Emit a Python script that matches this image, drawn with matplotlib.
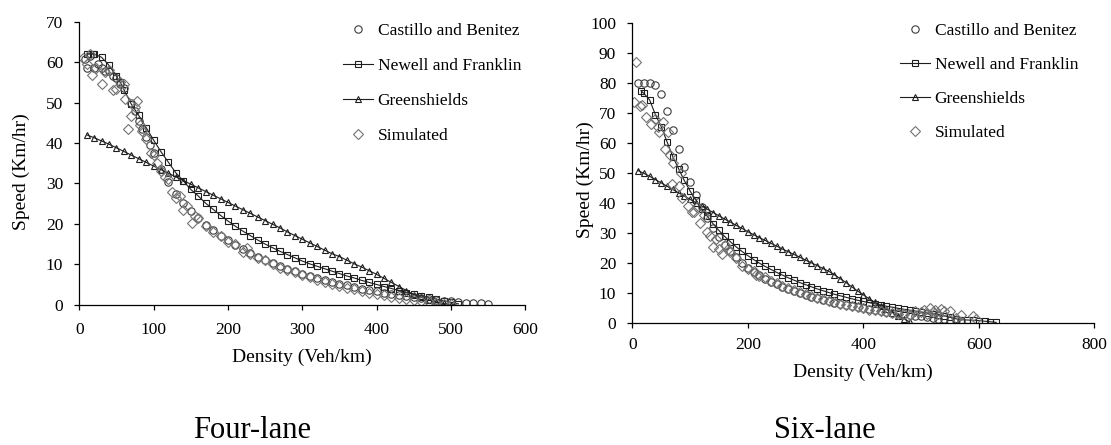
import matplotlib
matplotlib.use("Agg")
import matplotlib.pyplot as plt
from matplotlib.lines import Line2D

plt.rcParams['font.family'] = ['Liberation Serif', 'DejaVu Serif']

# ---------------- Four-lane data ----------------
k4_cb = [8, 10, 15, 20, 25, 30, 35, 40, 45, 50, 55, 60, 70, 75, 80, 85, 90, 95, 100, 110,
         120, 130, 140, 150, 160, 170, 180, 190, 200, 210, 220, 230, 240, 250, 260, 270, 280,
         290, 300, 310, 320, 330, 340, 350, 360, 370, 380, 390, 400, 410, 420, 430, 440, 450,
         460, 470, 480, 490, 500, 510, 520, 530, 540, 550]
v4_cb = [60.8, 58.5, 61.5, 58.6, 59.5, 58.5, 57.8, 57.8, 56.5, 56.0, 54.5, 53.5, 50.0, 48.0,
         45.5, 43.5, 41.5, 39.5, 37.5, 33.5, 30.3, 27.5, 25.2, 23.2, 21.4, 19.8, 18.4, 17.1,
         15.9, 14.8, 13.8, 12.8, 11.9, 11.1, 10.3, 9.6, 8.9, 8.3, 7.7, 7.1, 6.6, 6.1, 5.6, 5.2,
         4.8, 4.4, 4.0, 3.6, 3.3, 3.0, 2.7, 2.4, 2.1, 1.9, 1.6, 1.4, 1.2, 1.0, 0.8, 0.7, 0.5,
         0.4, 0.3, 0.2]

k4_nf = [10, 14, 18, 20, 30, 40, 50, 55, 60, 70, 80, 90, 100, 110, 120, 130, 140, 150, 160,
         170, 180, 190, 200, 210, 220, 230, 240, 250, 260, 270, 280, 290, 300, 310, 320, 330,
         340, 350, 360, 370, 380, 390, 400, 410, 420, 430, 440, 450, 460, 470, 480, 490, 500, 510]
v4_nf = [62.0, 62.0, 62.0, 62.0, 61.2, 59.2, 56.5, 55.0, 53.2, 49.6, 46.8, 43.8, 40.7, 37.8,
         35.2, 32.6, 30.6, 28.5, 26.9, 25.1, 23.6, 22.1, 20.7, 19.4, 18.2, 17.1, 16.0, 15.0,
         14.1, 13.2, 12.4, 11.6, 10.8, 10.1, 9.5, 8.9, 8.3, 7.7, 7.1, 6.6, 6.0, 5.5, 5.0, 4.5,
         4.0, 3.5, 3.0, 2.6, 2.2, 1.8, 1.4, 1.0, 0.6, 0.2]

k4_gs = [10, 20, 30, 40, 50, 60, 70, 80, 90, 100, 110, 120, 130, 140, 150, 160, 170, 180, 190,
         200, 210, 220, 230, 240, 250, 260, 270, 280, 290, 300, 310, 320, 330, 340, 350, 360,
         370, 380, 390, 400, 410, 420, 430, 440, 450, 460, 470, 480, 490, 500]
v4_gs = [42.0, 41.3, 40.5, 39.7, 38.8, 37.9, 37.0, 36.1, 35.2, 34.3, 33.4, 32.5, 31.6, 30.7,
         29.8, 28.9, 28.0, 27.1, 26.2, 25.3, 24.4, 23.5, 22.6, 21.7, 20.8, 19.9, 19.0, 18.0,
         17.1, 16.2, 15.3, 14.4, 13.5, 12.6, 11.9, 11.0, 10.1, 9.3, 8.4, 7.5, 6.5, 5.5, 4.5,
         3.5, 2.5, 1.8, 1.2, 0.7, 0.3, 0.0]

k4_sim = [5, 10, 15, 17, 22, 30, 35, 40, 46, 50, 55, 60, 62, 66, 70, 75, 78, 81, 85, 90, 96,
          100, 105, 110, 115, 120, 125, 130, 135, 140, 145, 152, 155, 160, 170, 180, 190, 200,
          210, 220, 225, 230, 240, 250, 260, 270, 280, 290, 300, 310, 320, 330, 340, 350, 360,
          370, 380, 390, 400, 410, 420, 430, 440, 450, 460, 470, 480, 490, 500]
v4_sim = [61.0, 59.5, 62.0, 56.8, 58.5, 54.6, 57.5, 58.0, 53.1, 53.3, 55.0, 54.5, 50.8, 43.5,
          46.7, 49.0, 50.5, 44.4, 43.0, 40.9, 37.4, 37.0, 35.0, 33.0, 31.5, 31.0, 28.0, 26.5,
          27.0, 23.5, 24.5, 20.3, 22.0, 21.5, 19.5, 18.0, 17.0, 15.5, 15.0, 13.0, 14.0, 12.5,
          11.5, 11.0, 10.0, 9.0, 8.5, 8.0, 7.3, 6.8, 6.2, 5.6, 5.1, 4.6, 4.2, 3.8, 3.4, 3.0,
          2.6, 2.3, 2.0, 1.7, 1.4, 1.1, 0.9, 0.6, 0.4, 0.2, 0.1]

# ---------------- Six-lane data ----------------
k6_cb = [10, 20, 30, 40, 50, 60, 70, 80, 90, 100, 110, 120, 130, 140, 150, 160, 170, 180, 190,
         200, 210, 220, 230, 240, 250, 260, 270, 280, 290, 300, 310, 320, 330, 340, 350, 360,
         370, 380, 390, 400, 410, 420, 430, 440, 450, 460, 470, 480, 490, 500, 510, 520, 530,
         540, 550, 560, 570]
v6_cb = [80.0, 80.0, 80.0, 79.4, 76.3, 70.7, 64.4, 58.0, 52.0, 47.0, 42.5, 38.5, 35.0, 31.5,
         28.5, 26.0, 23.8, 21.8, 20.0, 18.4, 17.0, 15.8, 14.7, 13.7, 12.8, 12.0, 11.2, 10.5,
         9.8, 9.2, 8.6, 8.1, 7.6, 7.1, 6.7, 6.3, 5.9, 5.5, 5.2, 4.9, 4.6, 4.3, 4.0, 3.7, 3.4,
         3.1, 2.9, 2.6, 2.4, 2.1, 1.9, 1.7, 1.4, 1.2, 1.0, 0.8, 0.5]

k6_nf = [15, 20, 30, 40, 50, 60, 70, 80, 90, 100, 110, 120, 130, 140, 150, 160, 170, 180, 190,
         200, 210, 220, 230, 240, 250, 260, 270, 280, 290, 300, 310, 320, 330, 340, 350, 360,
         370, 380, 390, 400, 410, 420, 430, 440, 450, 460, 470, 480, 490, 500, 510, 520, 530,
         540, 550, 560, 570, 580, 590, 600, 610, 620, 630]
v6_nf = [77.5, 76.6, 74.4, 69.5, 65.5, 60.5, 55.5, 51.5, 47.5, 44.0, 41.0, 38.0, 35.5, 33.0,
         30.8, 28.8, 27.0, 25.3, 23.8, 22.4, 21.1, 19.9, 18.8, 17.8, 16.8, 15.9, 15.0, 14.2,
         13.4, 12.7, 12.0, 11.3, 10.7, 10.1, 9.5, 9.0, 8.5, 8.0, 7.5, 7.1, 6.7, 6.3, 5.9, 5.5,
         5.2, 4.8, 4.5, 4.2, 3.9, 3.6, 3.3, 3.0, 2.7, 2.4, 1.8, 1.3, 1.0, 0.9, 0.8, 0.7, 0.5,
         0.3, 0.1]

k6_gs = [10, 20, 30, 40, 50, 60, 70, 80, 90, 100, 110, 120, 130, 140, 150, 160, 170, 180, 190,
         200, 210, 220, 230, 240, 250, 260, 270, 280, 290, 300, 310, 320, 330, 340, 350, 360,
         370, 380, 390, 400, 410, 420, 430, 440, 450, 460, 470, 480]
v6_gs = [50.8, 49.9, 48.9, 47.8, 46.7, 45.6, 44.5, 43.4, 42.3, 41.2, 40.1, 39.0, 37.9, 36.8,
         35.7, 34.6, 33.6, 32.5, 31.5, 30.4, 29.4, 28.4, 27.5, 26.5, 25.6, 24.6, 23.7, 22.8,
         21.9, 20.9, 20.0, 19.1, 18.1, 17.2, 16.0, 14.7, 13.4, 12.0, 10.6, 9.3, 8.0, 6.8, 5.6,
         4.5, 3.4, 2.4, 1.3, 0.3]

k6_sim = [3, 6, 14, 17, 24, 32, 39, 44, 47, 54, 57, 62, 65, 71, 68, 80, 84, 86, 97, 103, 107,
          112, 117, 125, 130, 135, 140, 145, 150, 155, 160, 165, 170, 180, 190, 200, 210, 215,
          220, 230, 240, 250, 260, 270, 280, 290, 300, 310, 320, 330, 340, 350, 360, 370, 380,
          390, 400, 410, 420, 430, 440, 450, 460, 470, 480, 490, 500, 505, 510, 515, 520, 525,
          530, 535, 540, 550, 560, 570, 590, 595]
v6_sim = [73.6, 87.2, 72.5, 72.8, 68.6, 66.4, 67.9, 65.3, 63.6, 67.1, 57.9, 63.8, 56.0, 53.2,
          46.2, 45.7, 49.9, 41.5, 39.0, 37.0, 37.1, 38.5, 33.2, 36.0, 30.2, 29.0, 25.3, 27.8,
          24.5, 23.0, 26.0, 24.5, 23.5, 21.5, 19.0, 18.0, 17.3, 16.0, 15.5, 15.2, 14.0, 13.2,
          12.4, 11.6, 10.8, 10.1, 9.5, 8.9, 8.3, 7.8, 7.3, 6.8, 6.3, 5.9, 5.5, 5.1, 4.8, 4.4,
          4.1, 3.8, 3.5, 3.3, 3.0, 2.8, 2.5, 3.8, 3.5, 4.4, 3.0, 4.8, 3.5, 4.2, 3.0, 4.6, 3.8,
          3.8, 1.5, 2.6, 2.4, 1.2]

labels = ["Castillo and Benitez", "Newell and Franklin", "Greenshields", "Simulated"]
x_label = "Density (Veh/km)"
y_label = "Speed (Km/hr)"
captions = ["Four-lane", "Six-lane"]

CB_C = "#3c3c3c"
NF_C = "#1e1e1e"
GS_C = "#1e1e1e"
SIM_C = "#737373"
FS = 12.5
W, H = 1111, 445

fig = plt.figure(figsize=(W / 100, H / 100), dpi=100)
fig.patch.set_facecolor("white")

ax1 = fig.add_axes([79.3 / W, 1 - 304.7 / H, (525.3 - 79.3) / W, (304.7 - 21.7) / H])
ax2 = fig.add_axes([632.3 / W, 1 - 322.7 / H, (1094.3 - 632.3) / W, (322.7 - 23.3) / H])


def draw(ax, kcb, vcb, knf, vnf, kgs, vgs, ksim, vsim, xpad):
    ax.plot(kgs, vgs, color=GS_C, lw=0.8, marker="^", ms=4.3, mfc="none", mec=GS_C, mew=0.8)
    ax.plot(knf, vnf, color=NF_C, lw=0.8, marker="s", ms=5.0, mfc="none", mec=NF_C, mew=0.8)
    ax.plot(kcb, vcb, ls="none", marker="o", ms=5.3, mfc="none", mec=CB_C, mew=0.8)
    ax.plot(ksim, vsim, ls="none", marker="D", ms=5.0, mfc="none", mec=SIM_C, mew=0.8)
    for s in ("top", "right"):
        ax.spines[s].set_visible(False)
    for s in ("left", "bottom"):
        ax.spines[s].set_linewidth(0.9)
    ax.tick_params(direction="out", length=3.6, width=0.9, labelsize=FS)
    ax.tick_params(axis="y", pad=8)
    ax.tick_params(axis="x", pad=xpad)


draw(ax1, k4_cb, v4_cb, k4_nf, v4_nf, k4_gs, v4_gs, k4_sim, v4_sim, 8.5)
draw(ax2, k6_cb, v6_cb, k6_nf, v6_nf, k6_gs, v6_gs, k6_sim, v6_sim, 6.5)

ax1.set_xlim(0, 600)
ax1.set_ylim(0, 70)
ax1.set_xticks(range(0, 601, 100))
ax1.set_yticks(range(0, 71, 10))
ax2.set_xlim(0, 800)
ax2.set_ylim(0, 100)
ax2.set_xticks(range(0, 801, 200))
ax2.set_yticks(range(0, 101, 10))

for ax, xly, ylx, yly in ((ax1, -0.185, -0.1307, 0.47), (ax2, -0.165, (585 - 632.3) / 462, 0.477)):
    ax.set_xlabel(x_label, fontsize=14, va="center")
    ax.set_ylabel(y_label, fontsize=14, va="center")
    ax.xaxis.set_label_coords(0.5, xly)
    ax.yaxis.set_label_coords(ylx, yly)

handles = [
    Line2D([], [], ls="none", marker="o", ms=5.3, mfc="none", mec=CB_C, mew=0.8),
    Line2D([], [], color=NF_C, lw=0.8, marker="s", ms=5.0, mfc="none", mec=NF_C, mew=0.8),
    Line2D([], [], color=GS_C, lw=0.8, marker="^", ms=4.3, mfc="none", mec=GS_C, mew=0.8),
    Line2D([], [], ls="none", marker="D", ms=5.0, mfc="none", mec=SIM_C, mew=0.8),
]

for ax, xl, sp in ((ax1, 343, 1.08), (ax2, 900, 1.02)):
    ax.legend(handles, labels, loc="upper left", bbox_to_anchor=(xl / W, 1 - 23 / H),
              bbox_transform=fig.transFigure, frameon=False, fontsize=FS, borderpad=0,
              handlelength=1.7, handletextpad=0.3, labelspacing=sp, borderaxespad=0)

fig.text(252 / W, 1 - 430 / H, captions[0], fontsize=22, ha="center", va="center")
fig.text(825 / W, 1 - 430 / H, captions[1], fontsize=22, ha="center", va="center")

fig.savefig("out.png", dpi=100)
